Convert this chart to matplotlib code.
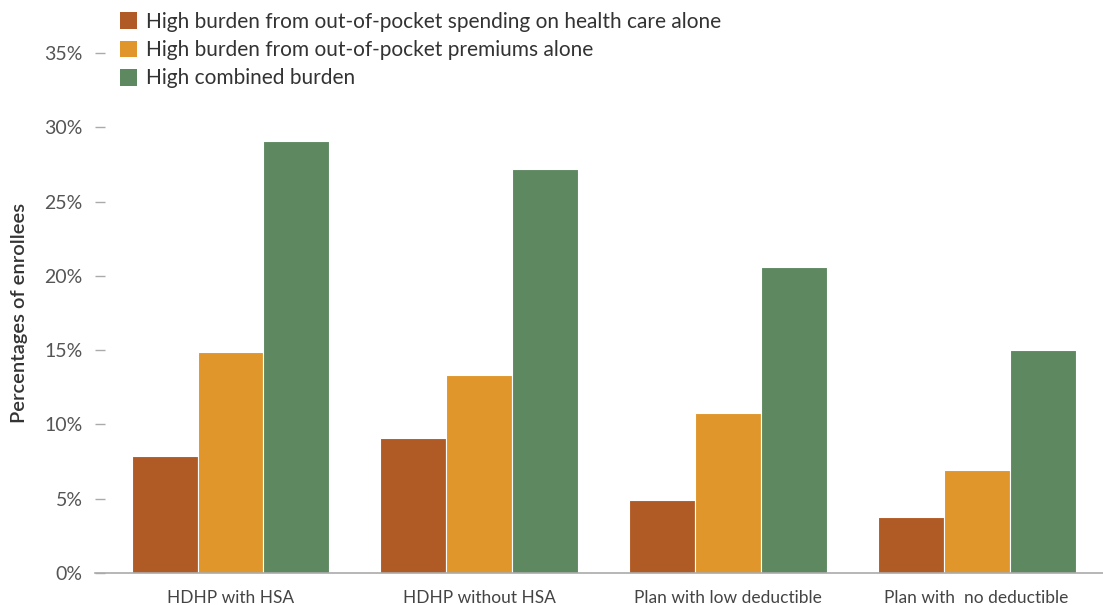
import numpy as np
import matplotlib.pyplot as plt
from matplotlib.patches import Patch

plt.rcParams['font.family'] = ['Lato', 'DejaVu Sans']

# data
categories = ['HDHP with HSA', 'HDHP without HSA', 'Plan with low deductible', 'Plan with  no deductible']
spending_alone = [7.9, 9.1, 4.9, 3.8]
premiums_alone = [14.9, 13.3, 10.8, 6.9]
combined = [29.1, 27.2, 20.6, 15.0]
series_labels = ['High burden from out-of-pocket spending on health care alone',
                 'High burden from out-of-pocket premiums alone',
                 'High combined burden']
colors = ['#B05A26', '#E0962A', '#5E8860']
yticks = [0, 5, 10, 15, 20, 25, 30, 35]


def main():
    fig = plt.figure(figsize=(11.03, 6.05), dpi=100)
    ax = fig.add_axes([95 / 1103, 32 / 605, 1 - 95 / 1103, (573 - 53) / 605])

    x = np.arange(len(categories))
    w = 0.265
    for i, vals in enumerate([spending_alone, premiums_alone, combined]):
        ax.bar(x + (i - 1) * w, vals, width=w, color=colors[i],
               edgecolor='white', linewidth=0.8)

    ax.set_xlim(-0.545, 3.508)
    ax.set_ylim(0, 35)
    ax.set_yticks(yticks)
    ax.set_yticklabels([f'{t}%' for t in yticks])
    ax.set_xticks(x)
    ax.set_xticklabels(categories)

    for s in ['top', 'right', 'left']:
        ax.spines[s].set_visible(False)
    ax.spines['bottom'].set_color('#aaaaaa')
    ax.spines['bottom'].set_linewidth(1.2)

    ax.tick_params(axis='y', direction='in', length=7.5, width=1, color='#aaaaaa',
                   pad=9, labelsize=14, labelcolor='#555555')
    ax.tick_params(axis='x', length=0, pad=12, labelsize=12.5, labelcolor='#444444')

    ax.set_ylabel('Percentages of enrollees', fontsize=14.5, color='#333333',
                  fontweight='semibold')
    ax.yaxis.set_label_coords(-0.066, 0.5)

    handles = [Patch(facecolor=c) for c in colors]
    fig.legend(handles, series_labels, loc='upper left',
               bbox_to_anchor=(101 / 1103, 1 + 7 / 605), frameon=False,
               fontsize=15, handlelength=0.85, handleheight=0.85,
               handletextpad=0.4, labelspacing=0.4, labelcolor='#333333')

    fig.savefig('out.png', dpi=100)


if __name__ == "__main__":
    main()
